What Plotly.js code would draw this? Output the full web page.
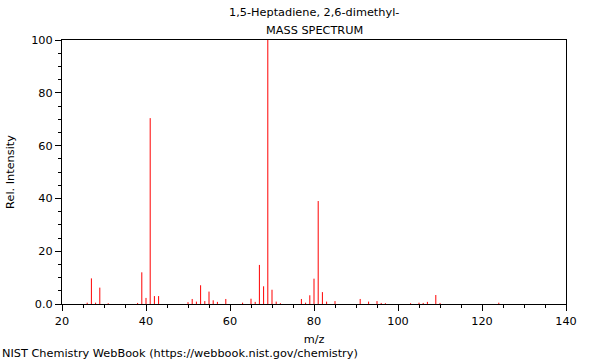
<!DOCTYPE html>
<html>
<head>
<meta charset="utf-8">
<script src="https://cdn.plot.ly/plotly-3.0.1.min.js"></script>
<style>
html,body{margin:0;padding:0;background:#fff;}
#chart{width:600px;height:360px;}
</style>
</head>
<body>
<div id="chart"></div>
<script>
const mz = [26, 27, 28, 29, 31, 38, 39, 40, 41, 42, 43, 50, 51, 52, 53, 54, 55, 56, 57, 59, 63, 65, 66, 67, 68, 69, 70, 71, 72, 77, 78, 79, 80, 81, 82, 83, 85, 91, 93, 95, 96, 97, 103, 105, 106, 107, 109, 110, 124];
const intensity = [0.5, 9.7, 0.5, 6.2, 0.3, 0.4, 12.0, 2.3, 70.4, 3.0, 3.0, 0.7, 1.9, 0.9, 7.1, 1.1, 4.7, 1.4, 0.8, 1.9, 0.5, 2.0, 0.8, 14.8, 6.7, 100, 5.4, 0.9, 0.3, 1.9, 0.5, 3.3, 9.6, 39.0, 4.5, 0.9, 1.1, 1.9, 0.9, 1.1, 0.4, 0.3, 0.3, 0.5, 0.4, 0.8, 3.4, 0.4, 0.5];
const yTickVals = [0, 20, 40, 60, 80, 100];
const yTickText = ["0.0", "20", "40", "60", "80", "100"];

// stick spectrum: vertical segments from 0 to each intensity
const sx = [], sy = [];
mz.forEach((m, i) => { sx.push(m, m, null); sy.push(0, intensity[i], null); });

const font = {family: "DejaVu Sans, sans-serif", size: 11.3, color: "#000"};

Plotly.newPlot("chart", [{
  type: "scatter",
  mode: "lines",
  x: sx,
  y: sy,
  line: {color: "rgb(255,0,0)", width: 1},
  connectgaps: false,
  hoverinfo: "skip"
}], {
  width: 600, height: 360,
  margin: {l: 62, r: 34, t: 40, b: 56},
  paper_bgcolor: "#fff", plot_bgcolor: "#fff",
  font: font,
  showlegend: false,
  xaxis: {
    range: [20, 140], tick0: 20, dtick: 20,
    ticks: "outside", ticklen: 6, tickcolor: "#000", tickwidth: 1,
    minor: {tick0: 20, dtick: 5, ticks: "outside", ticklen: 3, tickcolor: "#000"},
    showgrid: false, zeroline: false,
    showline: true, linecolor: "#000", linewidth: 1, mirror: true,
    title: {text: "m/z", font: font, standoff: 8},
    tickfont: font
  },
  yaxis: {
    range: [0, 100], tickmode: "array", tickvals: yTickVals, ticktext: yTickText,
    ticks: "outside", ticklen: 6, tickcolor: "#000", tickwidth: 1,
    minor: {tickmode: "linear", tick0: 0, dtick: 5, ticks: "outside", ticklen: 3, tickcolor: "#000"},
    showgrid: false, zeroline: false,
    showline: true, linecolor: "#000", linewidth: 1, mirror: true,
    title: {text: "Rel. Intensity", font: font, standoff: 14},
    tickfont: font
  },
  annotations: [
    {text: "1,5-Heptadiene, 2,6-dimethyl-", xref: "paper", yref: "paper",
     x: 0.5, y: (304 - 13) / 264, xanchor: "center", yanchor: "middle", showarrow: false, font: font},
    {text: "MASS SPECTRUM", xref: "paper", yref: "paper",
     x: 0.5, y: (304 - 30) / 264, xanchor: "center", yanchor: "middle", showarrow: false, font: font},
    {text: "NIST Chemistry WebBook (https://webbook.nist.gov/chemistry)",
     xref: "paper", yref: "paper", x: -62/504, y: (304 - 353) / 264,
     xanchor: "left", yanchor: "middle", showarrow: false, font: font}
  ]
}, {staticPlot: true});
</script>
</body>
</html>
